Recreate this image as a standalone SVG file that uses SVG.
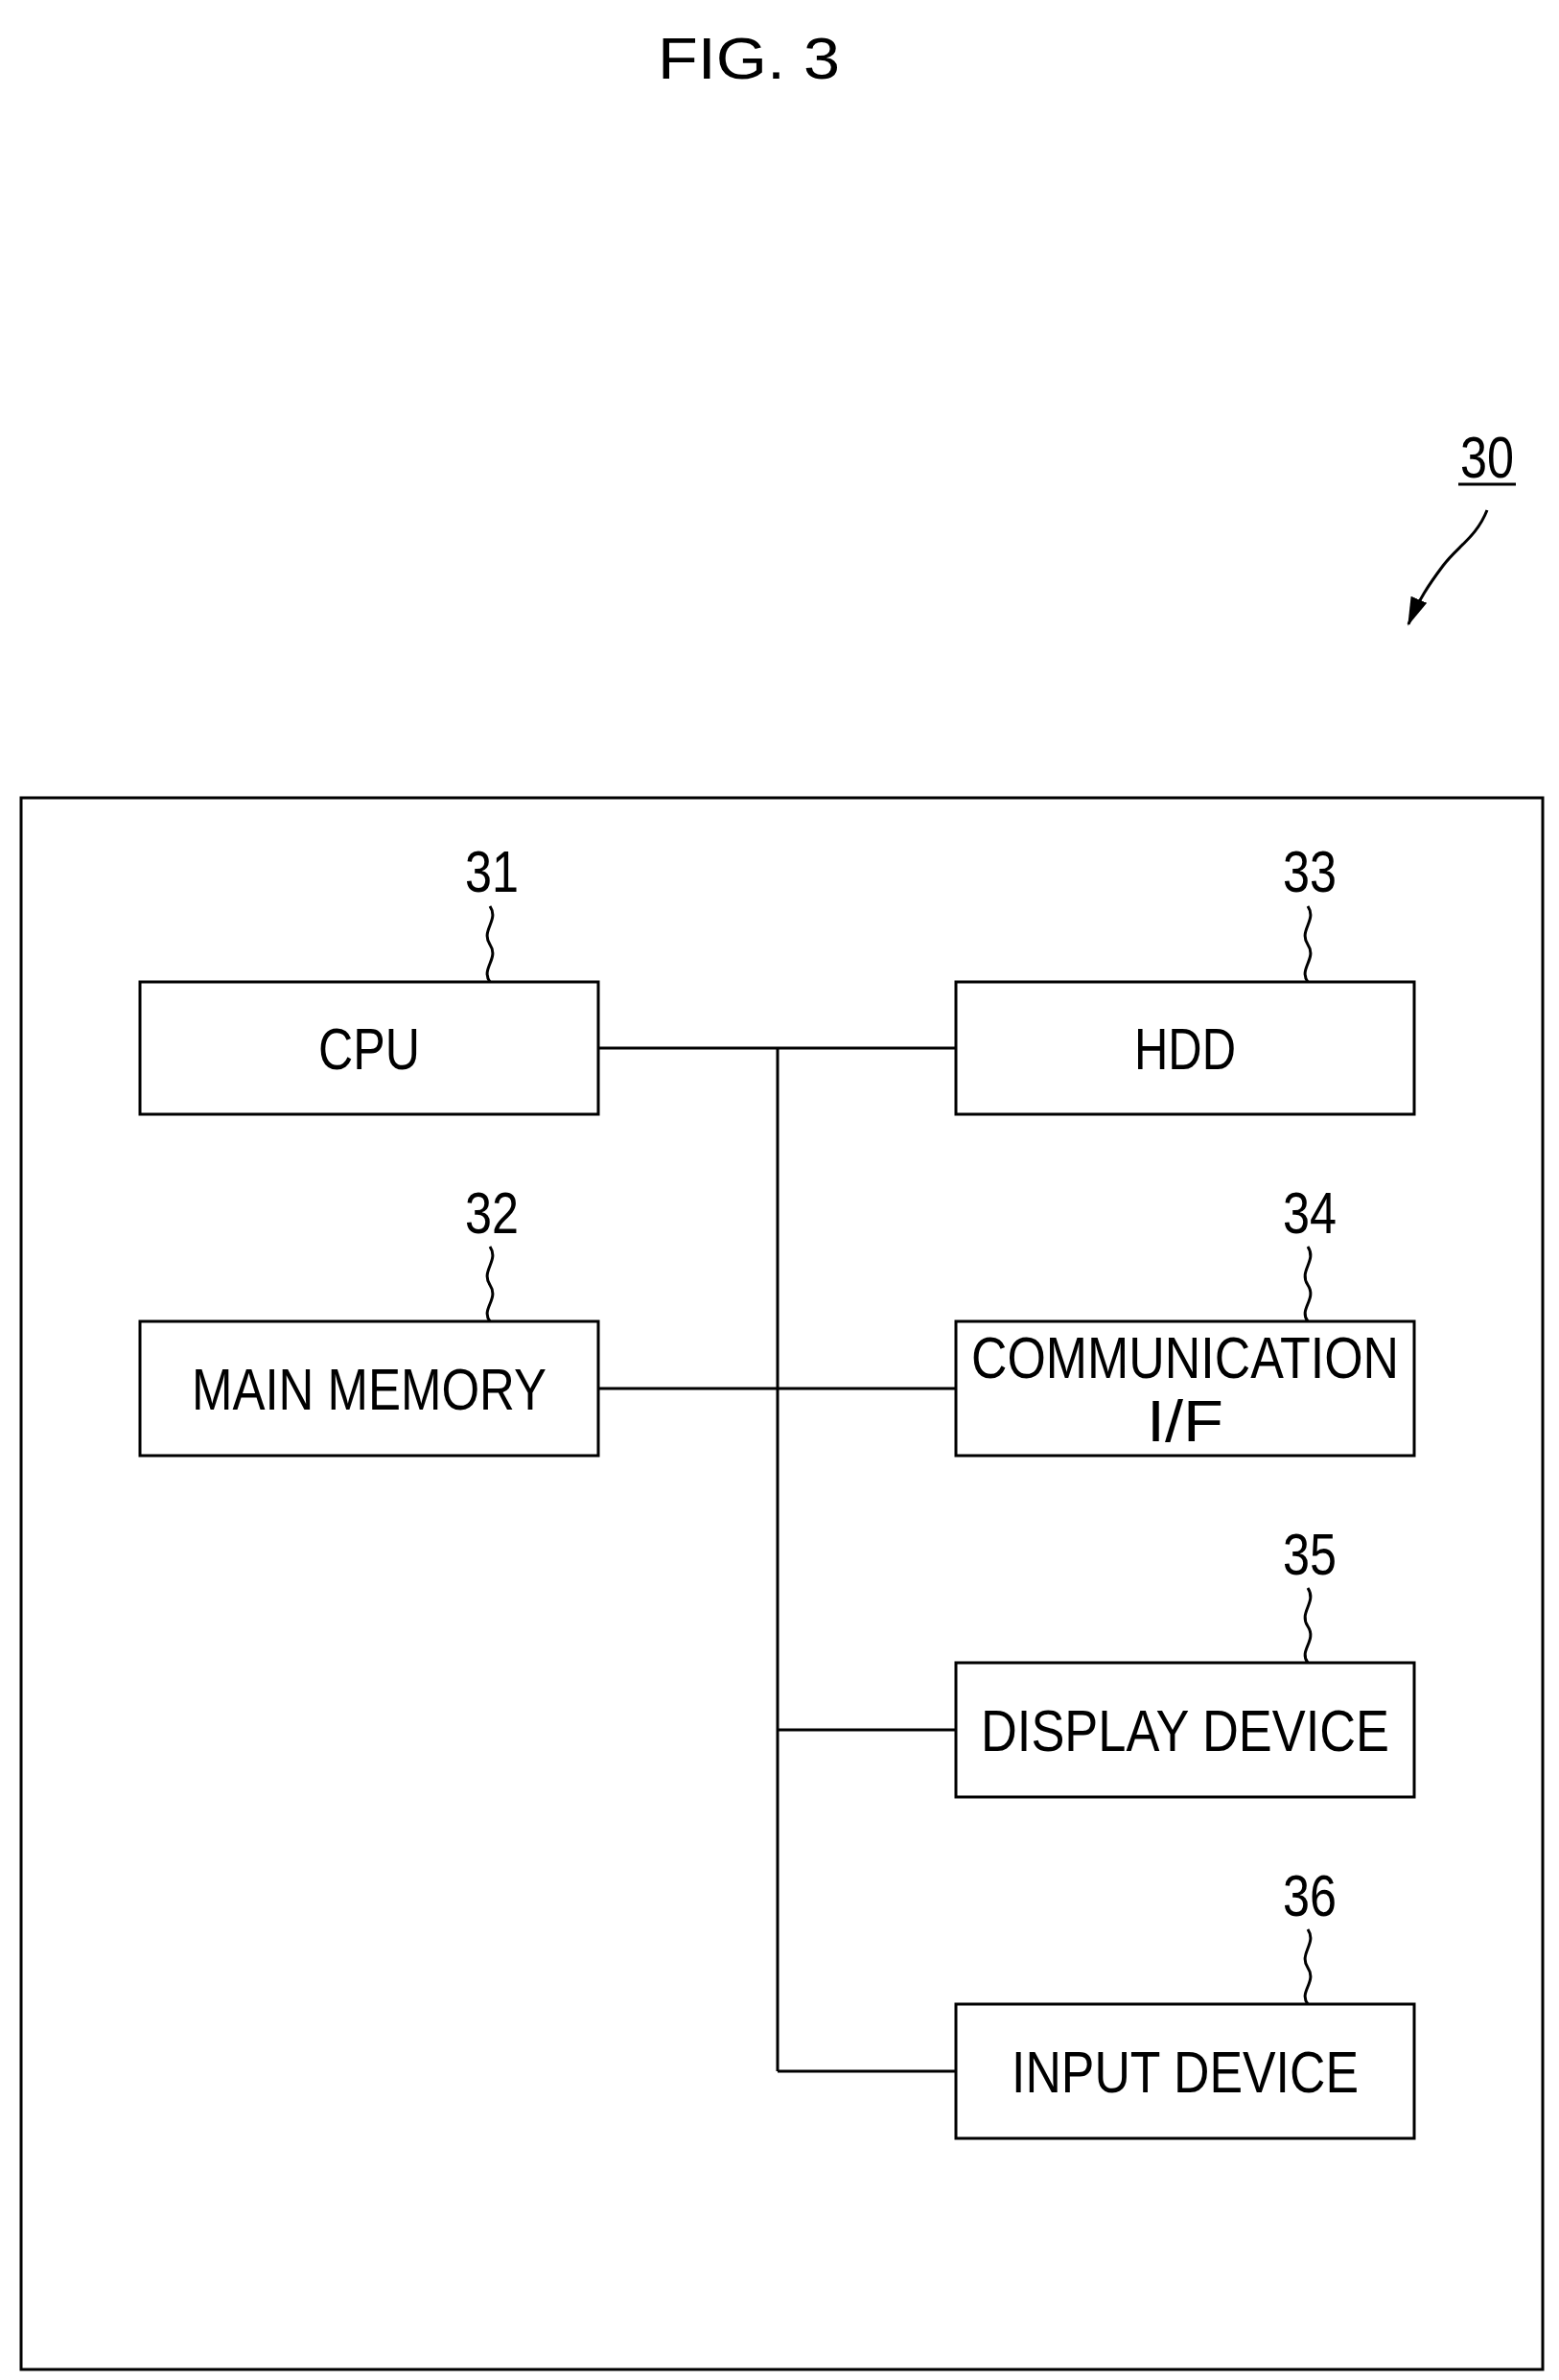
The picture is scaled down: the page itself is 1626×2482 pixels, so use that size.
<svg xmlns="http://www.w3.org/2000/svg" width="1626" height="2482" viewBox="0 0 1626 2482">
<style>
.b{fill:#fff;stroke:#000;stroke-width:3}
.l{fill:none;stroke:#000;stroke-width:3}
.t{font-family:"Liberation Sans",Arial,sans-serif;font-size:62px;text-anchor:middle;fill:#000}
.n{font-family:"Liberation Sans",Arial,sans-serif;font-size:62px;text-anchor:middle;fill:#000}
</style>
<defs><marker id="ah" markerWidth="10" markerHeight="10" refX="8" refY="5" orient="auto" markerUnits="userSpaceOnUse" viewBox="0 0 10 10"><path d="M0,0 L10,5 L0,10 z"/></marker>
<marker id="a2" markerWidth="30" markerHeight="30" refX="28" refY="15" orient="auto" markerUnits="userSpaceOnUse" viewBox="0 0 30 30"><path d="M0,6 L30,15 L0,24 z"/></marker></defs>
<text x="781" y="82" class="t" font-size="80" textLength="190" lengthAdjust="spacingAndGlyphs">FIG. 3</text>
<g id="label30"><text x="1551" y="498" class="n" textLength="56" lengthAdjust="spacingAndGlyphs">30</text><line x1="1521" y1="505" x2="1581" y2="505" class="l"/>
<path d="M1551,532 C1540,560 1520,570 1505,590 C1490,610 1480,625 1469,651" class="l" marker-end="url(#a2)"/></g>
<g id="frame"><rect x="22" y="832" width="1587" height="1639" class="b"/></g>
<g id="connectors">
<line x1="624" y1="1093" x2="997" y2="1093" class="l"/>
<line x1="624" y1="1448" x2="997" y2="1448" class="l"/>
<line x1="811" y1="1093" x2="811" y2="2160" class="l"/>
<line x1="811" y1="1804" x2="997" y2="1804" class="l"/>
<line x1="811" y1="2160" x2="997" y2="2160" class="l"/>
</g>
<g id="n31"><rect x="146" y="1024" width="478" height="138" class="b"/><text x="385" y="1115" class="t" textLength="106" lengthAdjust="spacingAndGlyphs">CPU</text>
<text x="513" y="930" class="n" textLength="56" lengthAdjust="spacingAndGlyphs">31</text><path d="M511,945 c10,15 -10,25 0,40 c10,15 -10,25 0,39" class="l"/></g>
<g id="n33"><rect x="997" y="1024" width="478" height="138" class="b"/><text x="1236" y="1115" class="t" textLength="106" lengthAdjust="spacingAndGlyphs">HDD</text>
<text x="1366" y="930" class="n" textLength="56" lengthAdjust="spacingAndGlyphs">33</text><path d="M1364,945 c10,15 -10,25 0,40 c10,15 -10,25 0,39" class="l"/></g>
<g id="n32"><rect x="146" y="1378" width="478" height="140" class="b"/><text x="385" y="1470" class="t" textLength="370" lengthAdjust="spacingAndGlyphs">MAIN MEMORY</text>
<text x="513" y="1286" class="n" textLength="56" lengthAdjust="spacingAndGlyphs">32</text><path d="M511,1300 c10,15 -10,25 0,40 c10,15 -10,25 0,38" class="l"/></g>
<g id="n34"><rect x="997" y="1378" width="478" height="140" class="b"/><text x="1236" y="1437" class="t" textLength="446" lengthAdjust="spacingAndGlyphs">COMMUNICATION</text><text x="1236" y="1503" class="t" textLength="80" lengthAdjust="spacingAndGlyphs">I/F</text>
<text x="1366" y="1286" class="n" textLength="56" lengthAdjust="spacingAndGlyphs">34</text><path d="M1364,1300 c10,15 -10,25 0,40 c10,15 -10,25 0,38" class="l"/></g>
<g id="n35"><rect x="997" y="1734" width="478" height="140" class="b"/><text x="1236" y="1826" class="t" textLength="426" lengthAdjust="spacingAndGlyphs">DISPLAY DEVICE</text>
<text x="1366" y="1642" class="n" textLength="56" lengthAdjust="spacingAndGlyphs">35</text><path d="M1364,1656 c10,15 -10,25 0,40 c10,15 -10,25 0,38" class="l"/></g>
<g id="n36"><rect x="997" y="2090" width="478" height="140" class="b"/><text x="1236" y="2182" class="t" textLength="362" lengthAdjust="spacingAndGlyphs">INPUT DEVICE</text>
<text x="1366" y="1998" class="n" textLength="56" lengthAdjust="spacingAndGlyphs">36</text><path d="M1364,2012 c10,15 -10,25 0,40 c10,15 -10,25 0,38" class="l"/></g>
</svg>
